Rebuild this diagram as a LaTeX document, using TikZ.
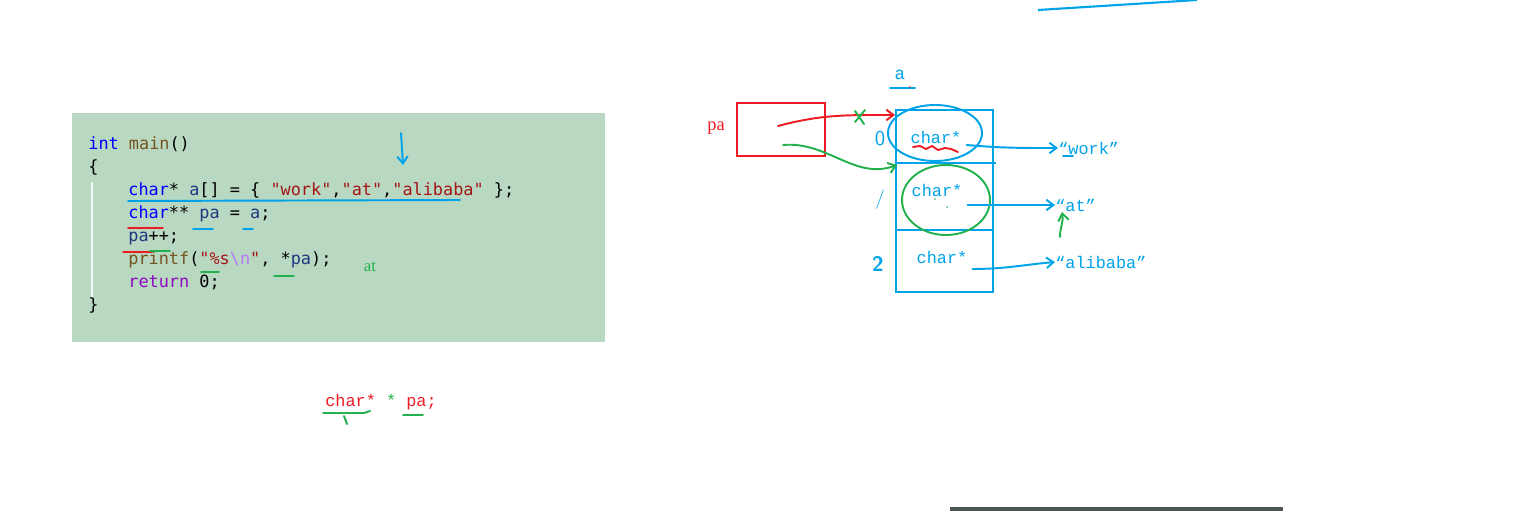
\documentclass[tikz,border=0pt]{standalone}
\usepackage{fontspec}
\setmonofont{DejaVu Sans Mono}
\newfontfamily\handfont{Liberation Mono}
\newfontfamily\serfont{Liberation Serif}
\usetikzlibrary{positioning,arrows.meta}

\definecolor{codebg}{RGB}{185,216,194}
\definecolor{kwblue}{RGB}{0,0,255}
\definecolor{fnbrown}{RGB}{116,83,31}
\definecolor{strred}{RGB}{163,21,21}
\definecolor{idblue}{RGB}{31,55,127}
\definecolor{escpurple}{RGB}{183,118,251}
\definecolor{retpurple}{RGB}{143,8,196}
\definecolor{hblue}{RGB}{0,162,232}
\definecolor{hred}{RGB}{237,28,36}
\definecolor{hgreen}{RGB}{34,177,76}

\tikzset{
  codeline/.style={anchor=west, inner sep=0pt, text height=7pt, text depth=2pt,
    font=\ttfamily\fontsize{9.6}{11}\selectfont},
  hand/.style={inner sep=0pt, font=\handfont\fontsize{9.6}{11}\selectfont},
  bluepen/.style={draw=hblue, line width=1.1pt, line cap=round},
  redpen/.style={draw=hred, line width=1.1pt, line cap=round},
  greenpen/.style={draw=hgreen, line width=1.1pt, line cap=round},
  tip/.style={-{Straight Barb[length=4pt,width=6pt]}}
}

\begin{document}
\begin{tikzpicture}[x=0.02cm,y=-0.02cm]
  \useasboundingbox (0,0) rectangle (1538,511);

  % code panel
  \fill[codebg] (72,113) rectangle (605,342);
  \draw[white!85!codebg, line width=0.6pt] (92,182) -- (92,298);
  \node[codeline] (l1) at (88,145) {{\color{kwblue}int} {\color{fnbrown}main}()};
  \node[codeline] (l2) at (88,168) {\{};
  \node[codeline] (l3) at (128,191) {{\color{kwblue}char}* {\color{idblue}a}[] = \{ {\color{strred}"work"},{\color{strred}"at"},{\color{strred}"alibaba"} \};};
  \node[codeline] (l4) at (128,214) {{\color{kwblue}char}** {\color{idblue}pa} = {\color{idblue}a};};
  \node[codeline] (l5) at (128,237) {{\color{idblue}pa}++;};
  \node[codeline] (l6) at (128,260) {{\color{fnbrown}printf}({\color{strred}"\%s}{\color{escpurple}\textbackslash n}{\color{strred}"}, *{\color{idblue}pa});};
  \node[codeline] (l7) at (128,283) {{\color{retpurple}return} 0;};
  \node[codeline] (l8) at (88,306) {\}};

  % scribbles on the code
  \draw[bluepen, tip] (401,133) -- (403,165);
  \draw[bluepen] (128,201) -- (460,200);
  \draw[bluepen] (193,229) -- (213,229);
  \draw[bluepen] (243,229) -- (253,229);
  \draw[redpen] (128,228) -- (163,228);
  \draw[redpen] (123,252) -- (152,252);
  \draw[greenpen] (150,251) -- (170,251);
  \draw[greenpen] (201,272) -- (219,272);
  \draw[greenpen] (274,276) -- (294,276);
  \node[inner sep=0pt, text=hgreen, font=\serfont\fontsize{9.5}{11}\selectfont] (out) at (370,267) {at};

  % declaration below
  \node[hand, anchor=west] (decl) at (325,402) {{\color{hred}char*} {\color{hgreen}*} {\color{hred}pa;}};
  \draw[greenpen] (323,413) -- (364,413) -- (370,411);
  \draw[greenpen] (344,416) -- (347,424);
  \draw[greenpen] (403,415) -- (423,415);

  % pointer pa
  \node[inner sep=0pt, text=hred, font=\serfont\fontsize{10.5}{12}\selectfont] (palbl) at (716,128) {pa};
  \draw[hred, line width=0.9pt] (737,103) rectangle (825,156);
  \coordinate (pared) at (778,126);
  \coordinate (pagreen) at (783,145);

  % array a
  \node[inner sep=0pt, text=hblue, font=\handfont\fontsize{10}{11}\selectfont] (aname) at (900,75) {a};
  \draw[bluepen] (890,88) -- (915,88);
  \fill[hred] (910,87) circle (0.8);
  \draw[hblue, line width=0.9pt] (896,110) rectangle (993,292);
  \draw[hblue, line width=0.9pt] (896,163) -- (996,163);
  \draw[hblue, line width=0.9pt] (896,230) -- (993,230);
  \coordinate (slot0) at (895,115);
  \coordinate (slot1) at (897,165);
  \node[hand, text=hblue] (c0) at (936,137) {char*};
  \node[hand, text=hblue] (c1) at (937,190) {char*};
  \node[hand, text=hblue] (c2) at (942,257) {char*};
  \node[inner sep=0pt, text=hblue, font=\sffamily\fontsize{12}{14}\selectfont] (i0) at (880,139) {0};
  \node[inner sep=0pt, text=hblue, font=\sffamily\fontsize{11}{14}\selectfont] (i1) at (880,200) {/};
  \node[inner sep=0pt, text=hblue, font=\sffamily\bfseries\fontsize{12}{14}\selectfont] (i2) at (878,264) {2};
  \draw[bluepen] (935,133) ellipse [x radius=47, y radius=28];
  \draw[greenpen] (946,200) ellipse [x radius=44, y radius=35];
  \fill[hgreen] (935,199) circle (0.8) (947,207) circle (0.8);
  \draw[redpen] (913,147) -- (920,146) -- (926,149) -- (932,146) -- (938,150) -- (945,148) -- (951,149) -- (958,152);

  % strings
  \node[hand, text=hblue, anchor=west] (work) at (1058,148) {“work”};
  \node[hand, text=hblue, anchor=west] (at) at (1055,205) {“at”};
  \node[hand, text=hblue, anchor=west] (alibaba) at (1055,262) {“alibaba”};
  \draw[bluepen] (1063,156) -- (1073,156);

  % arrows
  \draw[bluepen, tip] (c0.east) ++(5,8) to[out=-5,in=180] (work.west);
  \draw[bluepen, tip] (c1.east) ++(5,15) to[out=0,in=180] (at.west);
  \draw[bluepen, tip] (c2.east) ++(5,12) to[out=0,in=185] (alibaba.west);
  \draw[redpen, tip] (pared) to[out=15,in=180] (slot0);
  \draw[greenpen] (855,111) -- (864,124) (855,122) -- (865,110);
  \draw[greenpen, tip] (pagreen) to[out=5,in=200] (slot1);
  \coordinate (gtail) at (1060,237);
  \draw[greenpen, tip] (gtail) to[out=90,in=-80] (1062,212);

  % stray marks
  \draw[hblue, line width=1.2pt] (1038,10) -- (1197,0);
  \fill[black!60!codebg] (950,507) rectangle (1283,511);
\end{tikzpicture}
\end{document}
